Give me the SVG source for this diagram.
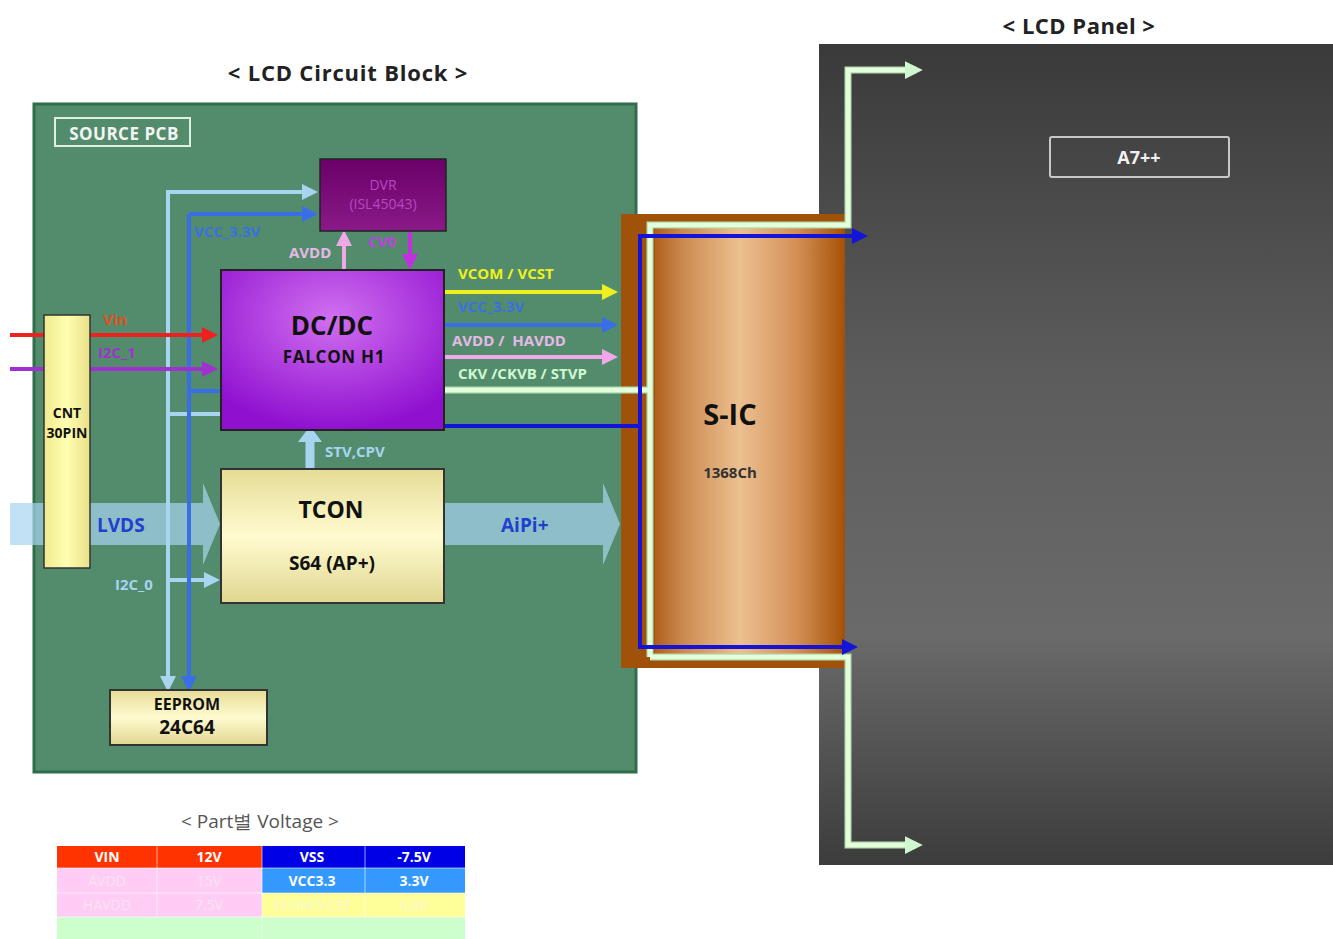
<svg xmlns="http://www.w3.org/2000/svg" width="1333" height="939" viewBox="0 0 1333 939">
<defs>
<linearGradient id="gPanel" x1="0" y1="0" x2="0" y2="1">
<stop offset="0" stop-color="#3a3a3a"/><stop offset="0.4" stop-color="#5c5c5c"/><stop offset="0.72" stop-color="#6a6a6a"/><stop offset="1" stop-color="#3c3c3c"/>
</linearGradient>
<radialGradient id="gDC2" cx="0.5" cy="0.3" r="0.7">
<stop offset="0" stop-color="#d070f0"/><stop offset="1" stop-color="#9010d0"/>
</radialGradient>
<linearGradient id="gDVR" x1="0" y1="0" x2="0" y2="1">
<stop offset="0" stop-color="#6a0068"/><stop offset="1" stop-color="#8a1a88"/>
</linearGradient>
<linearGradient id="gYel" x1="0" y1="0" x2="0" y2="1">
<stop offset="0" stop-color="#e6dc96"/><stop offset="0.5" stop-color="#fffbd0"/><stop offset="1" stop-color="#e0d690"/>
</linearGradient>
<linearGradient id="gCNT" x1="0" y1="0" x2="1" y2="0">
<stop offset="0" stop-color="#f0ea90"/><stop offset="0.5" stop-color="#ffffb0"/><stop offset="1" stop-color="#e8e088"/>
</linearGradient>
<linearGradient id="gSIC" x1="0" y1="0" x2="1" y2="0">
<stop offset="0" stop-color="#b0601c"/><stop offset="0.15" stop-color="#cc8a50"/><stop offset="0.45" stop-color="#ecc090"/><stop offset="0.75" stop-color="#d49058"/><stop offset="1" stop-color="#a85408"/>
</linearGradient>
<marker id="aLB" markerWidth="4" markerHeight="4" refX="2.5" refY="2" orient="auto" markerUnits="strokeWidth"><path d="M0,0 L4,2 L0,4 z" fill="#a8d4f0"/></marker>
<marker id="aB" markerWidth="4" markerHeight="4" refX="2.5" refY="2" orient="auto" markerUnits="strokeWidth"><path d="M0,0 L4,2 L0,4 z" fill="#3a6ee6"/></marker>
<marker id="aDB" markerWidth="4" markerHeight="4" refX="2.5" refY="2" orient="auto" markerUnits="strokeWidth"><path d="M0,0 L4,2 L0,4 z" fill="#1414d8"/></marker>
<marker id="aR" markerWidth="4" markerHeight="4" refX="2.5" refY="2" orient="auto" markerUnits="strokeWidth"><path d="M0,0 L4,2 L0,4 z" fill="#ee2020"/></marker>
<marker id="aP" markerWidth="4" markerHeight="4" refX="2.5" refY="2" orient="auto" markerUnits="strokeWidth"><path d="M0,0 L4,2 L0,4 z" fill="#a030d0"/></marker>
<marker id="aPk" markerWidth="4" markerHeight="4" refX="2.5" refY="2" orient="auto" markerUnits="strokeWidth"><path d="M0,0 L4,2 L0,4 z" fill="#f0a8e8"/></marker>
<marker id="aM" markerWidth="4" markerHeight="4" refX="2.5" refY="2" orient="auto" markerUnits="strokeWidth"><path d="M0,0 L4,2 L0,4 z" fill="#c030e0"/></marker>
<marker id="aY" markerWidth="4" markerHeight="4" refX="2.5" refY="2" orient="auto" markerUnits="strokeWidth"><path d="M0,0 L4,2 L0,4 z" fill="#f0f020"/></marker>
<marker id="aG" markerWidth="4" markerHeight="4" refX="2.5" refY="2" orient="auto" markerUnits="strokeWidth"><path d="M0,0 L4,2 L0,4 z" fill="#d0f8d0"/></marker>
</defs>
<style>
text{font-family:"Open Sans","Liberation Sans",sans-serif}
.title{font-size:22px;font-weight:bold;fill:#222}
.lbl{font-size:15px;font-weight:bold}
.blk{fill:#111;font-weight:bold;text-anchor:middle}
.tw{font-size:14px;font-weight:bold;fill:#fff;text-anchor:middle}
.tf{font-size:14px;fill:#f4f4f4;text-anchor:middle;opacity:0.6}
</style>
<rect width="1333" height="939" fill="#ffffff"/>

<g id="panel">
<rect x="819" y="44" width="514" height="821" fill="url(#gPanel)"/>
<text x="1079" y="34" class="title" text-anchor="middle" letter-spacing="0.5">&lt; LCD Panel &gt;</text>
</g>
<g id="a7">
<rect x="1050" y="137" width="179" height="40" fill="none" stroke="#c8c8c8" stroke-width="2" rx="2"/>
<text x="1139" y="164" text-anchor="middle" font-size="18" font-weight="bold" fill="#f0f0f0">A7++</text>
</g>

<g id="pcb">
<text x="348" y="81" class="title" text-anchor="middle" letter-spacing="0.8">&lt; LCD Circuit Block &gt;</text>
<rect x="34" y="104" width="602" height="668" fill="#528c6c" stroke="#2e6e4a" stroke-width="3"/>
<rect x="55" y="118" width="135" height="28" fill="none" stroke="#e0f0e0" stroke-width="2"/>
<text x="124" y="140" text-anchor="middle" font-size="17" font-weight="bold" fill="#f4f4f4" letter-spacing="0.5">SOURCE PCB</text>
</g>

<g id="sic">
<rect x="621" y="214" width="224" height="454" fill="#a0520a"/>
<rect x="655" y="224" width="188" height="434" fill="url(#gSIC)"/>
<text x="730" y="425" class="blk" font-size="29">S-IC</text>
<text x="730" y="478" text-anchor="middle" font-size="15" font-weight="bold" fill="#333">1368Ch</text>
</g>

<g id="connectors" fill="none">
<path d="M10,503 H203 V483 L220,524 L203,565 V545 H10 Z" fill="#a8d4f0" fill-opacity="0.7"/>
<path d="M444,503 H603 V483 L620,524 L603,565 V545 H444 Z" fill="#a8d4f0" fill-opacity="0.7"/>
<path d="M310,192 H168 V686" stroke="#a8d4f0" stroke-width="4" marker-end="url(#aLB)"/>
<path d="M168,192 H312" stroke="#a8d4f0" stroke-width="4" marker-end="url(#aLB)"/>
<path d="M168,414 H220" stroke="#a8d4f0" stroke-width="4"/>
<path d="M168,580 H214" stroke="#a8d4f0" stroke-width="4" marker-end="url(#aLB)"/>
<path d="M189,214 V686" stroke="#3a6ee6" stroke-width="4" marker-end="url(#aB)"/>
<path d="M189,214 H312" stroke="#3a6ee6" stroke-width="4" marker-end="url(#aB)"/>
<path d="M189,391 H220" stroke="#3a6ee6" stroke-width="4"/>
<path d="M10,335 H212" stroke="#ee2020" stroke-width="4" marker-end="url(#aR)"/>
<path d="M10,369 H212" stroke="#a030d0" stroke-width="4" marker-end="url(#aP)"/>
<path d="M344,270 V236" stroke="#f0a8e8" stroke-width="4" marker-end="url(#aPk)"/>
<path d="M410,231 V264" stroke="#c030e0" stroke-width="4" marker-end="url(#aM)"/>
<path d="M310,469 V440" stroke="#a8d4f0" stroke-width="9"/>
<path d="M298,442 L310,426 L322,442 Z" fill="#a8d4f0"/>
<path d="M444,292 H612" stroke="#f0f020" stroke-width="4" marker-end="url(#aY)"/>
<path d="M444,325 H612" stroke="#3a6ee6" stroke-width="4" marker-end="url(#aB)"/>
<path d="M444,357 H612" stroke="#f0a8e8" stroke-width="4" marker-end="url(#aPk)"/>
<path d="M444,390 H650 M650,657 V225 H848 V70 H916" stroke="#b4dcb0" stroke-width="7"/>
<path d="M650,657 H848 V845 H916" stroke="#b4dcb0" stroke-width="7"/>
<path d="M444,390 H650 M650,657 V225 H848 V70 H916" stroke="#e4ffdc" stroke-width="4.5" marker-end="url(#aG)"/>
<path d="M650,657 H848 V845 H916" stroke="#e4ffdc" stroke-width="4.5" marker-end="url(#aG)"/>
<path d="M444,426 H640 V236 H862" stroke="#1414d8" stroke-width="4" marker-end="url(#aDB)"/>
<path d="M640,420 V647 H852" stroke="#1414d8" stroke-width="4" marker-end="url(#aDB)"/>
</g>

<g id="labels">
<text x="103" y="325" class="lbl" fill="#e05020">Vin</text>
<text x="98" y="358" class="lbl" fill="#a030d0">I2C_1</text>
<text x="194" y="237" class="lbl" fill="#3a70e0">VCC_3.3V</text>
<text x="289" y="258" class="lbl" fill="#e8b8e8">AVDD</text>
<text x="368" y="247" class="lbl" fill="#c040e0">CV0</text>
<text x="458" y="279" class="lbl" fill="#f0f020">VCOM / VCST</text>
<text x="458" y="312" class="lbl" fill="#3a70e0">VCC_3.3V</text>
<text x="452" y="346" class="lbl" fill="#e8b8e8" xml:space="preserve">AVDD /  HAVDD</text>
<text x="458" y="379" class="lbl" fill="#d0f8d0">CKV /CKVB / STVP</text>
<text x="325" y="457" class="lbl" fill="#a8d4f0">STV,CPV</text>
<text x="115" y="590" class="lbl" fill="#a8d4f0" font-weight="normal">I2C_0</text>
<text x="97" y="532" font-size="19" font-weight="bold" fill="#2040d0">LVDS</text>
<text x="501" y="532" font-size="19" font-weight="bold" fill="#2040d0">AiPi+</text>
</g>

<g id="cnt">
<rect x="44" y="315" width="46" height="253" fill="url(#gCNT)" stroke="#333" stroke-width="1.5"/>
<text x="67" y="418" class="blk" font-size="14">CNT</text>
<text x="67" y="438" class="blk" font-size="14">30PIN</text>
</g>

<g id="dvr">
<rect x="320" y="159" width="126" height="72" fill="url(#gDVR)" stroke="#222" stroke-width="1.5"/>
<text x="383" y="190" text-anchor="middle" font-size="14" fill="#b848c0">DVR</text>
<text x="383" y="209" text-anchor="middle" font-size="14" fill="#b848c0">(ISL45043)</text>
</g>

<g id="dcdc">
<rect x="221" y="270" width="223" height="160" fill="url(#gDC2)" stroke="#222" stroke-width="2"/>
<text x="332" y="335" class="blk" font-size="26">DC/DC</text>
<text x="334" y="363" class="blk" font-size="17" letter-spacing="0.7">FALCON  H1</text>
</g>

<g id="tcon">
<rect x="221" y="469" width="223" height="134" fill="url(#gYel)" stroke="#333" stroke-width="2"/>
<text x="331" y="518" class="blk" font-size="23">TCON</text>
<text x="332" y="570" class="blk" font-size="19" font-weight="600">S64 (AP+)</text>
</g>

<g id="eeprom">
<rect x="110" y="690" width="157" height="55" fill="url(#gYel)" stroke="#333" stroke-width="2"/>
<text x="187" y="710" class="blk" font-size="16" font-weight="600">EEPROM</text>
<text x="187" y="734" class="blk" font-size="19">24C64</text>
</g>

<g id="table">
<text x="260" y="828" text-anchor="middle" font-size="19" fill="#555" font-family="'Open Sans','Noto Sans CJK KR',sans-serif">&lt; Part별 Voltage &gt;</text>
<rect x="57" y="846" width="205" height="22" fill="#ff3300"/>
<rect x="262" y="846" width="203" height="22" fill="#0000e6"/>
<rect x="57" y="868" width="205" height="49" fill="#ffccf5"/>
<rect x="262" y="868" width="203" height="25" fill="#3399ff"/>
<rect x="262" y="893" width="203" height="24" fill="#ffff99"/>
<rect x="57" y="917" width="408" height="22" fill="#ccffcc"/>
<g stroke="#ffffff" stroke-width="1" stroke-opacity="0.6">
<line x1="157" y1="846" x2="157" y2="917"/><line x1="262" y1="846" x2="262" y2="939"/><line x1="365" y1="846" x2="365" y2="917"/>
<line x1="57" y1="868" x2="465" y2="868"/><line x1="57" y1="893" x2="465" y2="893"/><line x1="57" y1="917" x2="465" y2="917"/>
</g>
<text x="107" y="862" class="tw">VIN</text>
<text x="209" y="862" class="tw">12V</text>
<text x="312" y="862" class="tw">VSS</text>
<text x="414" y="862" class="tw">-7.5V</text>
<text x="312" y="886" class="tw">VCC3.3</text>
<text x="414" y="886" class="tw">3.3V</text>
<text x="107" y="886" class="tf">AVDD</text>
<text x="209" y="886" class="tf">15V</text>
<text x="107" y="910" class="tf">HAVDD</text>
<text x="209" y="910" class="tf">7.5V</text>
<text x="312" y="910" class="tf">VCOM/VCST</text>
<text x="414" y="910" class="tf">6.8V</text>
</g>
</svg>
